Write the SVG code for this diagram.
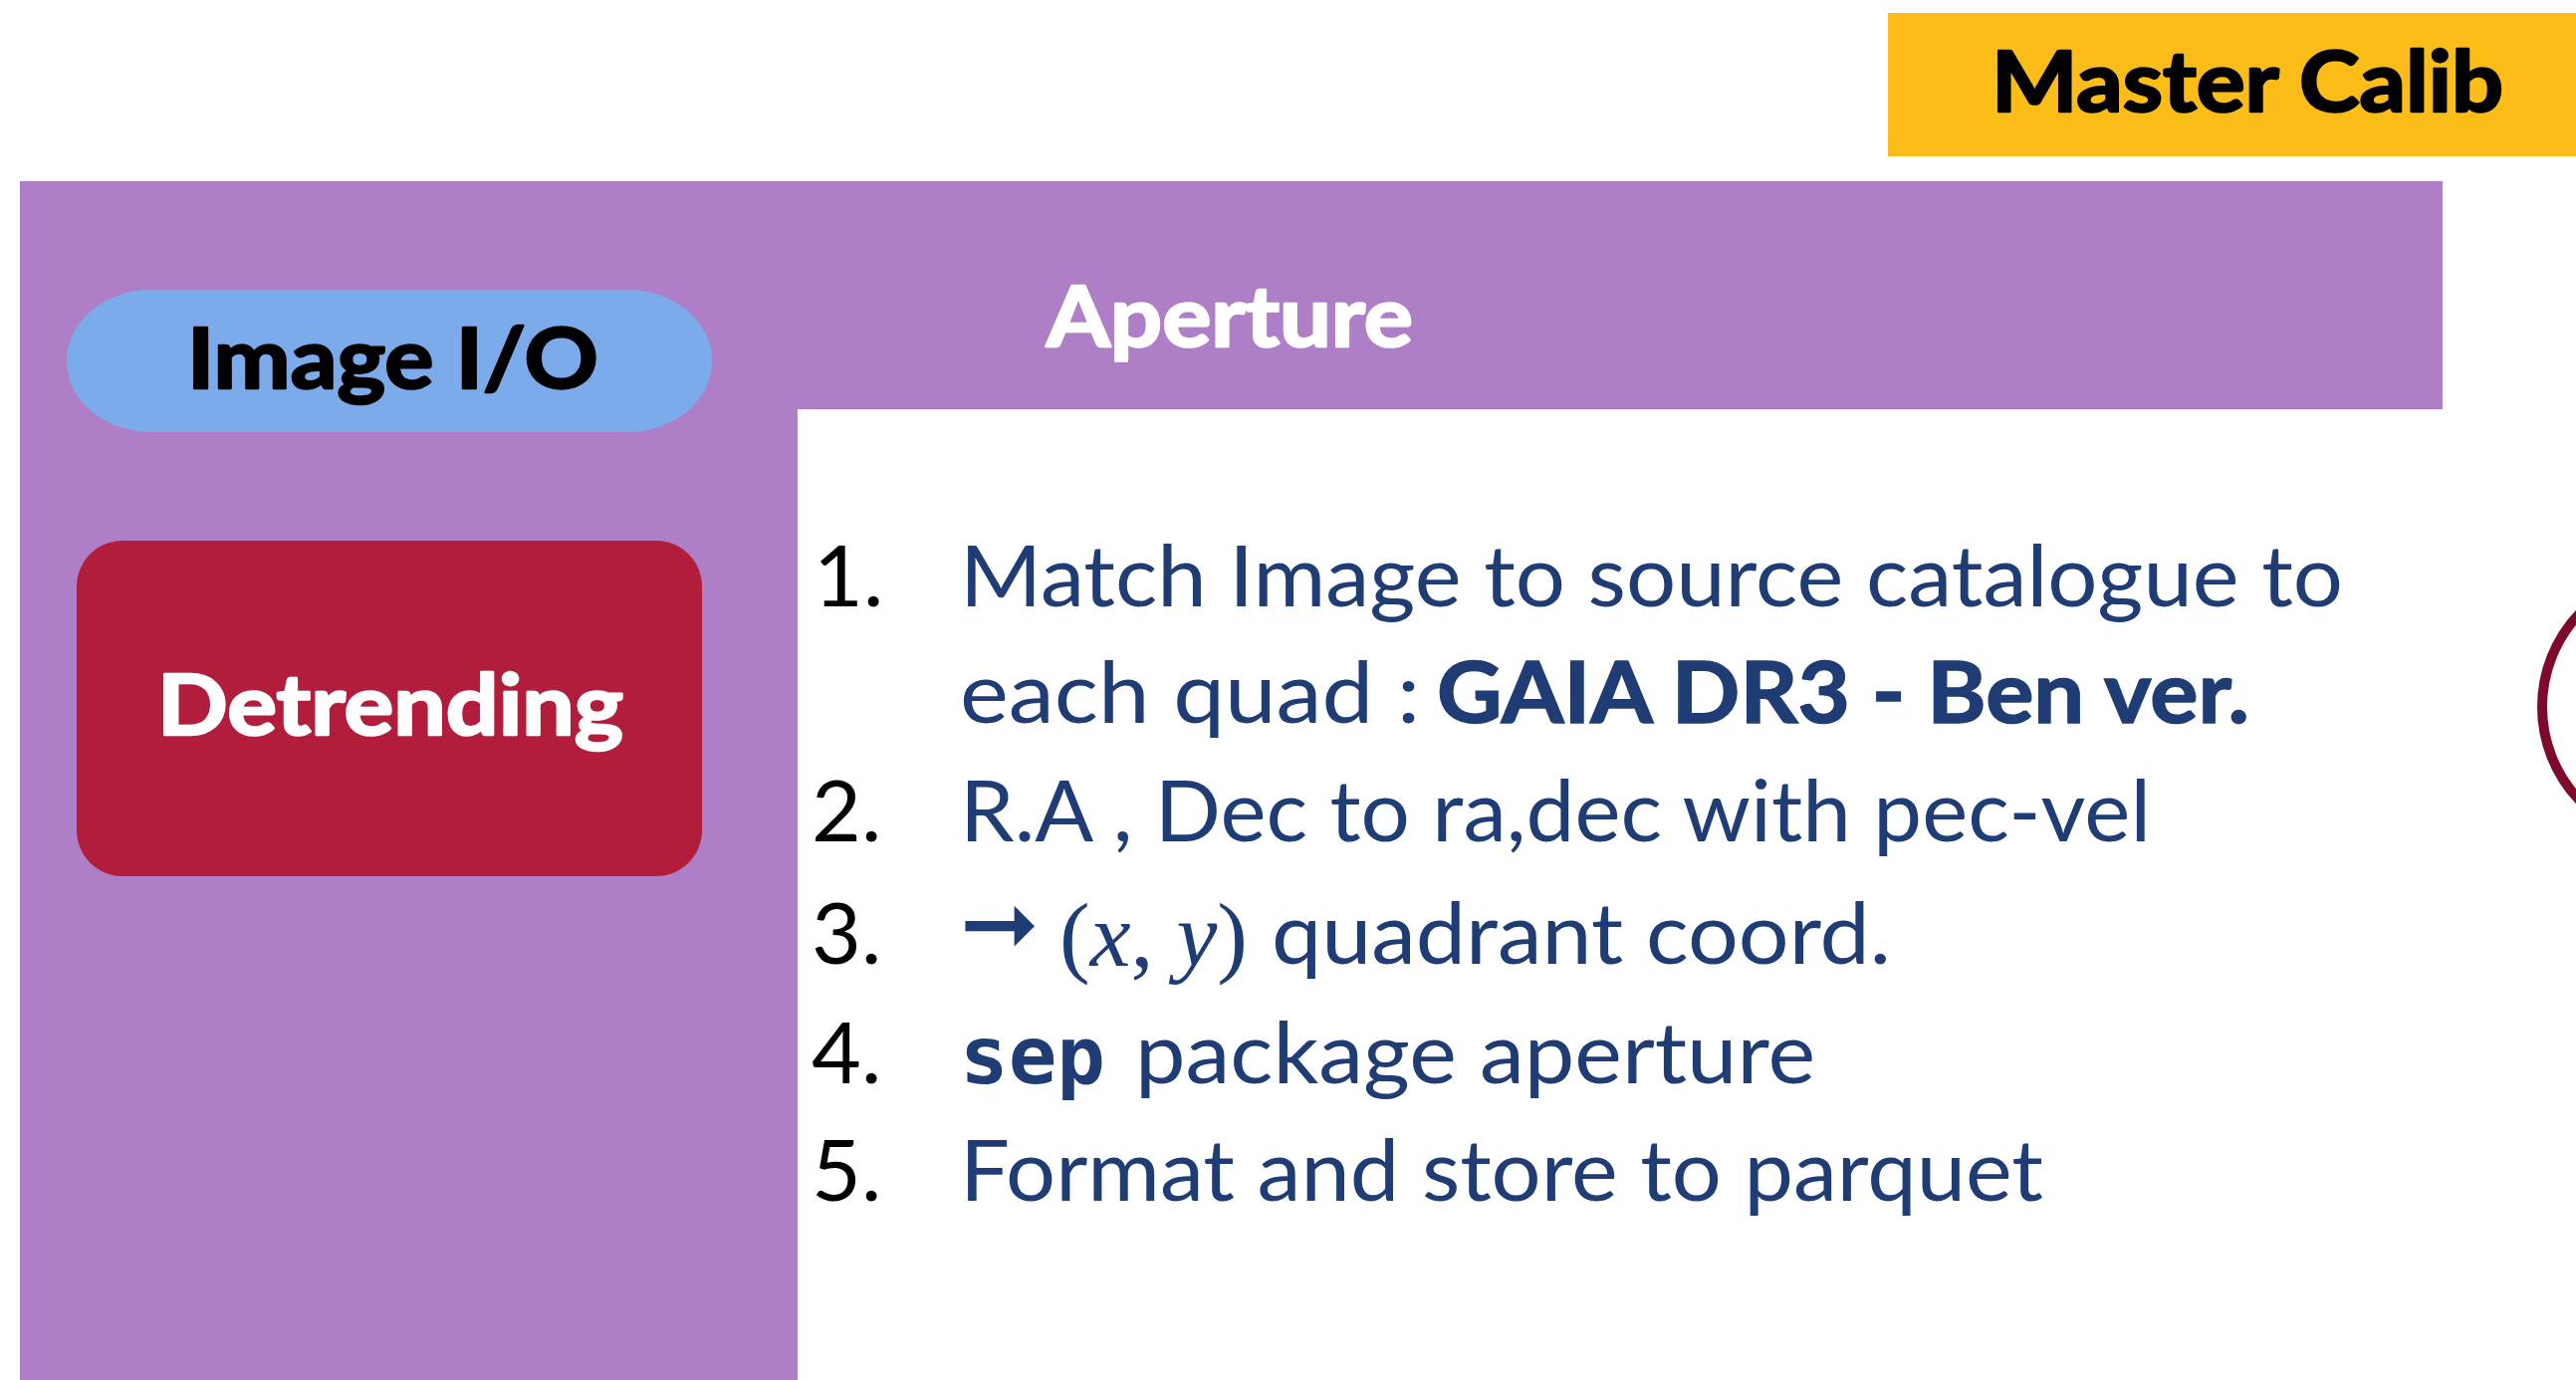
<svg xmlns="http://www.w3.org/2000/svg" width="2587" height="1386" viewBox="0 0 2587 1386">
<style>
.hd{font-family:Lato,"Liberation Sans",sans-serif;font-weight:700;font-size:85px;stroke-width:2.5;stroke-linejoin:round}
.num{font-family:Lato,"Liberation Sans",sans-serif;font-size:86px;fill:#000}
.bl{font-family:Lato,"Liberation Sans",sans-serif;font-size:86px;fill:#1f3d74}
.blb{font-family:Lato,"Liberation Sans",sans-serif;font-weight:700;font-size:86px;fill:#1f3d74;stroke:#1f3d74;stroke-width:1.5}
.mono{font-family:"DejaVu Sans Mono",monospace;font-weight:700;font-size:80px;fill:#1f3d74}
.math{font-family:"Liberation Serif",serif;font-size:92px;fill:#1f3d74}
</style>
<rect width="2587" height="1386" fill="#ffffff"/>
<g id="master-calib">
<rect x="1896" y="13" width="691" height="144" fill="#fdbd19"/>
<text class="hd" x="2000" y="112" textLength="514" lengthAdjust="spacingAndGlyphs" fill="#000" stroke="#000">Master Calib</text>
</g>
<g id="aperture-panel">
<path d="M20,182 H2453 V411 H801 V1386 H20 Z" fill="#ae7fc6"/>
<text class="hd" x="1051" y="348" textLength="368" lengthAdjust="spacingAndGlyphs" fill="#fff" stroke="#fff">Aperture</text>
</g>
<g id="image-io">
<rect x="67" y="291" width="648" height="143" rx="85" ry="71" fill="#7babeb"/>
<text class="hd" x="188" y="390" textLength="413" lengthAdjust="spacingAndGlyphs" fill="#000" stroke="#000">Image I/O</text>
</g>
<g id="detrending">
<rect x="77" y="543" width="628" height="337" rx="46" ry="46" fill="#b21d3b"/>
<text class="hd" x="158" y="738" textLength="468" lengthAdjust="spacingAndGlyphs" fill="#fff" stroke="#fff">Detrending</text>
</g>
<g id="steps">
<text class="num" x="817" y="609">1.</text>
<text class="bl" x="964" y="609" textLength="1389" lengthAdjust="spacingAndGlyphs">Match Image to source catalogue to</text>
<text class="bl" x="964" y="726" textLength="462" lengthAdjust="spacingAndGlyphs">each quad :</text>
<text class="blb" x="1443" y="726" textLength="816" lengthAdjust="spacingAndGlyphs">GAIA DR3 - Ben ver.</text>
<text class="num" x="815" y="845">2.</text>
<text class="bl" x="964" y="845" textLength="1196" lengthAdjust="spacingAndGlyphs">R.A , Dec to ra,dec with pec-vel</text>
<text class="num" x="815" y="968">3.</text>
<text x="964" y="960" style="font-family:'DejaVu Sans',sans-serif;font-size:95px;fill:#1f3d74">➞</text>
<text class="math" x="1064" y="970">(<tspan font-style="italic">x</tspan>, <tspan font-style="italic">y</tspan>)</text>
<text class="bl" x="1277" y="968" textLength="622" lengthAdjust="spacingAndGlyphs">quadrant coord.</text>
<text class="num" x="815" y="1088">4.</text>
<text class="mono" x="964" y="1088" textLength="146" lengthAdjust="spacingAndGlyphs">sep</text>
<text class="bl" x="1140" y="1088" textLength="683" lengthAdjust="spacingAndGlyphs">package aperture</text>
<text class="num" x="815" y="1206">5.</text>
<text class="bl" x="964" y="1206" textLength="1088" lengthAdjust="spacingAndGlyphs">Format and store to parquet</text>
</g>
<g id="marker-circle">
<circle cx="2689" cy="710" r="136" fill="none" stroke="#7d0a2b" stroke-width="10"/>
</g>
<g id="connectors"/>
</svg>
